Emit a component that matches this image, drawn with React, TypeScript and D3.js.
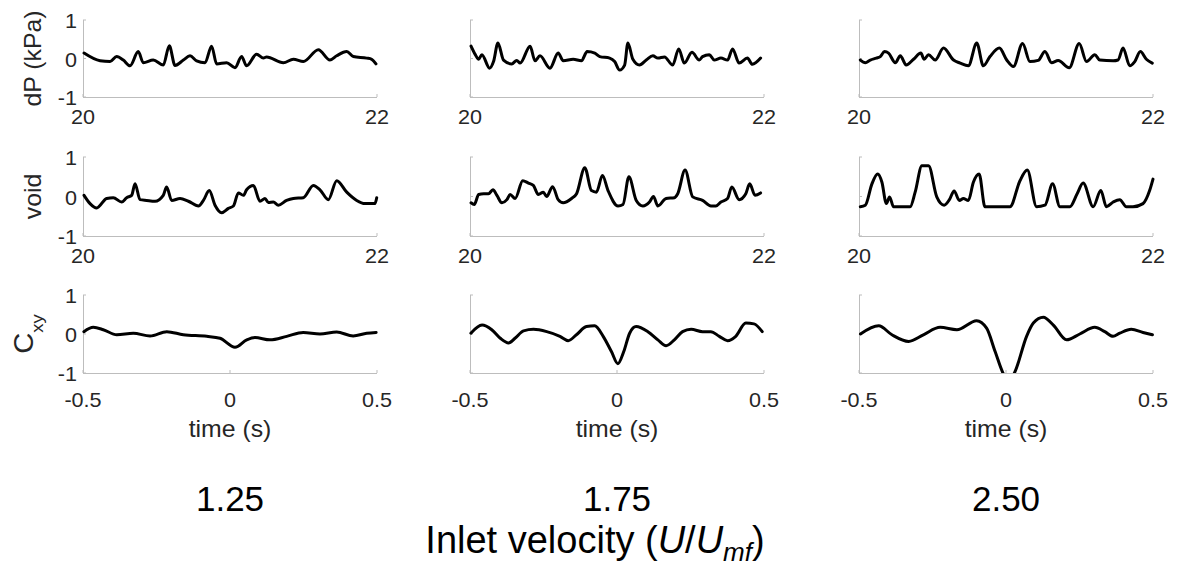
import React from 'react';
import * as d3 from 'd3';

type Pt = [number, number];

// ---------- data ----------
const velocities = ['1.25', '1.75', '2.50'];
const yTicks = [1, 0, -1];
const timeTicks = [20, 22];
const lagTicks = [-0.5, 0, 0.5];

const dp125: Pt[] = [
  [20.007, 0.14], [20.116, -0.06], [20.184, -0.08], [20.229, 0.05], [20.274, -0.04], [20.32, -0.19],
  [20.376, 0.18], [20.41, -0.11], [20.478, -0.04], [20.546, -0.17], [20.587, 0.33], [20.626, -0.18],
  [20.683, -0.04], [20.728, 0.07], [20.773, -0.06], [20.83, -0.11], [20.875, 0.32], [20.909, -0.14],
  [20.977, -0.11], [21.034, -0.24], [21.079, 0.05], [21.113, -0.19], [21.181, 0.11], [21.227, 0.01],
  [21.249, 0.04], [21.363, -0.11], [21.431, -0.02], [21.499, -0.08], [21.601, 0.23], [21.68, -0.04],
  [21.726, 0.07], [21.794, 0.18], [21.839, 0.05], [21.93, 0.01], [21.964, -0.02], [21.993, -0.14],
];
const dp175: Pt[] = [
  [20.007, 0.32], [20.036, 0.1], [20.059, -0.02], [20.081, 0.1], [20.133, -0.25], [20.16, -0.08],
  [20.19, 0.4], [20.228, -0.04], [20.284, -0.14], [20.318, -0.05], [20.341, -0.12], [20.409, 0.32],
  [20.442, -0.06], [20.476, 0.07], [20.544, -0.25], [20.6, 0.14], [20.634, -0.06], [20.702, -0.02],
  [20.758, -0.06], [20.797, 0.18], [20.849, 0.14], [20.883, 0.05], [20.95, 0.01], [20.984, -0.08],
  [21.018, -0.3], [21.052, -0.17], [21.074, 0.4], [21.108, -0.02], [21.153, -0.17], [21.199, -0.04],
  [21.244, 0.07], [21.278, 0.01], [21.323, 0.04], [21.379, -0.17], [21.42, 0.25], [21.458, -0.12],
  [21.51, 0.16], [21.56, -0.04], [21.582, 0.05], [21.628, 0.1], [21.661, -0.04], [21.707, 0.01],
  [21.752, -0.04], [21.786, 0.25], [21.831, -0.12], [21.887, 0.01], [21.921, -0.15], [21.977, 0.01],
];
const dp250: Pt[] = [
  [20.009, -0.04], [20.043, -0.11], [20.077, -0.04], [20.118, 0.01], [20.145, 0.05], [20.174, 0.18],
  [20.201, 0.14], [20.247, -0.11], [20.281, 0.07], [20.321, -0.17], [20.371, -0.02], [20.421, 0.14],
  [20.443, -0.02], [20.473, 0.1], [20.518, -0.04], [20.575, 0.27], [20.643, -0.04], [20.688, -0.12],
  [20.744, -0.19], [20.801, 0.4], [20.846, -0.19], [20.891, 0.05], [20.955, 0.27], [21.005, -0.04],
  [21.05, -0.21], [21.113, 0.39], [21.163, -0.08], [21.219, -0.05], [21.265, 0.18], [21.31, -0.11],
  [21.355, -0.05], [21.43, -0.24], [21.498, 0.39], [21.548, -0.08], [21.604, 0.1], [21.638, -0.04],
  [21.729, -0.06], [21.762, -0.04], [21.796, 0.27], [21.842, -0.19], [21.876, -0.08], [21.914, 0.18],
  [21.955, -0.02], [21.995, -0.12],
];

const void125: Pt[] = [
  [20.007, 0.03], [20.048, -0.18], [20.093, -0.29], [20.161, -0.05], [20.206, -0.03], [20.263, -0.14],
  [20.297, -0.03], [20.331, 0.03], [20.354, 0.32], [20.388, -0.08], [20.433, -0.1], [20.49, -0.12],
  [20.546, 0.03], [20.569, 0.24], [20.603, -0.1], [20.66, -0.05], [20.717, -0.12], [20.785, -0.24],
  [20.819, -0.1], [20.859, 0.15], [20.898, -0.22], [20.943, -0.41], [20.989, -0.3], [21.023, -0.24],
  [21.057, 0.09], [21.091, 0.03], [21.113, 0.17], [21.159, 0.28], [21.204, -0.12], [21.238, -0.05],
  [21.261, -0.15], [21.295, -0.14], [21.329, -0.22], [21.385, -0.1], [21.431, -0.05], [21.499, -0.03],
  [21.567, 0.28], [21.612, 0.17], [21.669, -0.08], [21.726, 0.4], [21.794, 0.11], [21.862, -0.1],
  [21.918, -0.18], [21.986, -0.18], [21.998, -0.03],
];
const void175: Pt[] = [
  [20.007, -0.16], [20.029, -0.2], [20.059, 0.05], [20.093, 0.07], [20.126, 0.07], [20.156, 0.17],
  [20.183, 0.03], [20.217, -0.16], [20.251, -0.08], [20.273, 0.05], [20.307, -0.05], [20.359, 0.4],
  [20.397, 0.34], [20.431, 0.28], [20.465, 0.05], [20.499, 0.11], [20.521, 0.0], [20.562, 0.25],
  [20.6, -0.08], [20.634, -0.16], [20.691, -0.05], [20.725, 0.07], [20.781, 0.73], [20.826, 0.15],
  [20.86, 0.11], [20.901, 0.53], [20.939, 0.15], [21.007, -0.24], [21.041, -0.2], [21.081, 0.5],
  [21.131, -0.1], [21.176, -0.24], [21.221, -0.14], [21.248, 0.0], [21.278, -0.24], [21.334, -0.05],
  [21.391, -0.03], [21.413, 0.07], [21.463, 0.67], [21.515, -0.01], [21.582, -0.1], [21.639, -0.24],
  [21.673, -0.24], [21.707, -0.14], [21.752, -0.05], [21.781, 0.24], [21.831, -0.08], [21.876, 0.07],
  [21.903, 0.32], [21.939, 0.03], [21.977, 0.09],
];
const void250: Pt[] = [
  [20.009, -0.26], [20.043, -0.22], [20.088, 0.32], [20.127, 0.57], [20.156, 0.36], [20.186, -0.18],
  [20.208, -0.01], [20.235, -0.26], [20.348, -0.26], [20.382, 0.11], [20.428, 0.78], [20.473, 0.78],
  [20.529, -0.01], [20.579, -0.22], [20.615, -0.08], [20.647, 0.14], [20.683, -0.1], [20.71, -0.05],
  [20.744, -0.1], [20.778, 0.36], [20.817, 0.57], [20.857, -0.26], [21.027, -0.26], [21.095, 0.4],
  [21.145, 0.67], [21.208, -0.26], [21.265, -0.22], [21.317, 0.32], [21.367, -0.26], [21.434, -0.26],
  [21.484, 0.07], [21.525, 0.34], [21.593, -0.26], [21.645, 0.15], [21.683, -0.26], [21.729, -0.14],
  [21.774, -0.08], [21.819, -0.26], [21.864, -0.26], [21.932, -0.18], [21.977, 0.15], [22.0, 0.44],
];

const cxy125: Pt[] = [
  [-0.497, 0.06], [-0.465, 0.17], [-0.431, 0.11], [-0.385, -0.02], [-0.329, 0.02], [-0.272, -0.05],
  [-0.215, 0.06], [-0.159, -0.02], [-0.079, -0.06], [-0.034, -0.11], [0.017, -0.34], [0.057, -0.15],
  [0.085, -0.09], [0.136, -0.15], [0.193, -0.06], [0.249, 0.04], [0.306, 0.0], [0.363, 0.05],
  [0.419, -0.05], [0.465, 0.02], [0.497, 0.04],
];
const cxy175: Pt[] = [
  [-0.497, 0.02], [-0.459, 0.23], [-0.426, 0.11], [-0.397, -0.11], [-0.369, -0.23], [-0.347, -0.11],
  [-0.318, 0.08], [-0.284, 0.12], [-0.239, 0.06], [-0.194, -0.06], [-0.166, -0.17], [-0.138, -0.02],
  [-0.104, 0.19], [-0.076, 0.21], [-0.047, -0.06], [-0.019, -0.45], [0.003, -0.76], [0.023, -0.45],
  [0.043, 0.02], [0.065, 0.19], [0.105, 0.06], [0.139, -0.15], [0.167, -0.3], [0.195, -0.15],
  [0.223, 0.06], [0.252, 0.12], [0.291, 0.06], [0.319, 0.06], [0.348, -0.06], [0.376, -0.17],
  [0.404, -0.06], [0.438, 0.28], [0.466, 0.26], [0.494, 0.06],
];
const cxy250: Pt[] = [
  [-0.495, 0.0], [-0.433, 0.21], [-0.388, -0.02], [-0.331, -0.19], [-0.281, -0.02], [-0.224, 0.17],
  [-0.167, 0.11], [-0.1, 0.34], [-0.066, 0.15], [-0.037, -0.45], [-0.007, -1.05], [0.011, -1.2],
  [0.031, -0.96], [0.07, -0.06], [0.093, 0.28], [0.127, 0.43], [0.161, 0.23], [0.206, -0.15],
  [0.251, 0.0], [0.302, 0.17], [0.336, 0.06], [0.364, -0.06], [0.387, 0.02], [0.426, 0.12],
  [0.466, 0.04], [0.498, -0.02],
];

// ---------- layout ----------
const W = 1177;
const H = 568;
const colLeft = [83, 470, 859];
const plotW = 294;
const rowTop = [20, 157, 295];
const rowH = [77, 79, 78];
const xLabelOffset = [27, 27, 34];
const FONT = "'Liberation Sans', Arial, Helvetica, sans-serif";
const AXIS = '#bdbdbd';
const TXT = '#262626';
const SX = 1.08;

function T(props: {
  x: number; y: number; size: number; anchor?: string; rot?: number; sx?: number;
  fill?: string; children: React.ReactNode;
}) {
  const { x, y, size, anchor = 'middle', rot = 0, sx = 1, fill = TXT, children } = props;
  const tr = `translate(${x},${y})${rot ? ` rotate(${rot})` : ''} scale(${sx},1)`;
  return (
    <text transform={tr} fontSize={size} textAnchor={anchor as any} fontFamily={FONT} fill={fill}>
      {children}
    </text>
  );
}

function Panel({ row, col, data, domain, ticks }: { row: number; col: number; data: Pt[]; domain: [number, number]; ticks: number[] }) {
  const left = colLeft[col];
  const top = rowTop[row];
  const h = rowH[row];
  const bottom = top + h;
  const x = d3.scaleLinear().domain(domain).range([left, left + plotW]);
  const y = d3.scaleLinear().domain([-1, 1]).range([bottom, top]);
  const line = d3.line<Pt>().x(d => x(d[0])).y(d => y(d[1])).curve(d3.curveMonotoneX);
  const clipId = `clip-${row}-${col}`;
  const fmt = (v: number) => String(v);
  return (
    <g>
      <defs>
        <clipPath id={clipId}>
          <rect x={left - 4} y={top - 4} width={plotW + 8} height={h + 4} />
        </clipPath>
      </defs>
      <line x1={left + 0.5} x2={left + 0.5} y1={top} y2={bottom} stroke={AXIS} strokeWidth={1} />
      <line x1={left} x2={left + plotW} y1={bottom + 0.5} y2={bottom + 0.5} stroke={AXIS} strokeWidth={1} />
      {yTicks.map(t => (
        <line key={'yt' + t} x1={left} x2={left + 3} y1={y(t)} y2={y(t)} stroke={AXIS} strokeWidth={1} />
      ))}
      {ticks.map(t => (
        <line key={'xt' + t} x1={x(t)} x2={x(t)} y1={bottom} y2={bottom - 3} stroke={AXIS} strokeWidth={1} />
      ))}
      <path d={line(data) || ''} fill="none" stroke="#000" strokeWidth={3} strokeLinejoin="round" strokeLinecap="round" clipPath={`url(#${clipId})`} />
      {col === 0 && yTicks.map(t => (
        <T key={'yl' + t} x={left - 6} y={y(t) + 1 + 7} size={20} anchor="end" sx={SX}>{fmt(t)}</T>
      ))}
      {ticks.map(t => (
        <T key={'xl' + t} x={x(t)} y={bottom + xLabelOffset[row]} size={20} sx={SX}>{fmt(t)}</T>
      ))}
      {row === 2 && (
        <T x={left + plotW / 2} y={437} size={23} sx={SX}>time (s)</T>
      )}
    </g>
  );
}

export default function App() {
  const grid: { data: Pt[][]; domain: [number, number]; ticks: number[] }[] = [
    { data: [dp125, dp175, dp250], domain: [20, 22], ticks: timeTicks },
    { data: [void125, void175, void250], domain: [20, 22], ticks: timeTicks },
    { data: [cxy125, cxy175, cxy250], domain: [-0.5, 0.5], ticks: lagTicks },
  ];
  return (
    <svg width={W} height={H} viewBox={`0 0 ${W} ${H}`} style={{ position: 'absolute', left: 0, top: 0, background: '#fff' }}>
      {grid.map((r, ri) =>
        r.data.map((d, ci) => (
          <Panel key={`${ri}-${ci}`} row={ri} col={ci} data={d} domain={r.domain} ticks={r.ticks} />
        ))
      )}
      <T x={41} y={rowTop[0] + rowH[0] / 2} size={23} rot={-90} sx={SX}>dP (kPa)</T>
      <T x={41} y={rowTop[1] + rowH[1] / 2} size={23} rot={-90} sx={SX}>void</T>
      <T x={33} y={rowTop[2] + rowH[2] / 2} size={27} rot={-90} sx={SX}>
        C<tspan fontSize={17} dy={10}>xy</tspan>
      </T>
      {velocities.map((v, i) => (
        <T key={v} x={colLeft[i] + plotW / 2} y={511} size={35} fill="#000">{v}</T>
      ))}
      <T x={595} y={553} size={38} fill="#000">
        Inlet velocity (<tspan fontStyle="italic">U</tspan>/<tspan fontStyle="italic">U</tspan>
        <tspan fontStyle="italic" fontSize={26} dy={8}>mf</tspan>
        <tspan dy={-8}>)</tspan>
      </T>
    </svg>
  );
}
